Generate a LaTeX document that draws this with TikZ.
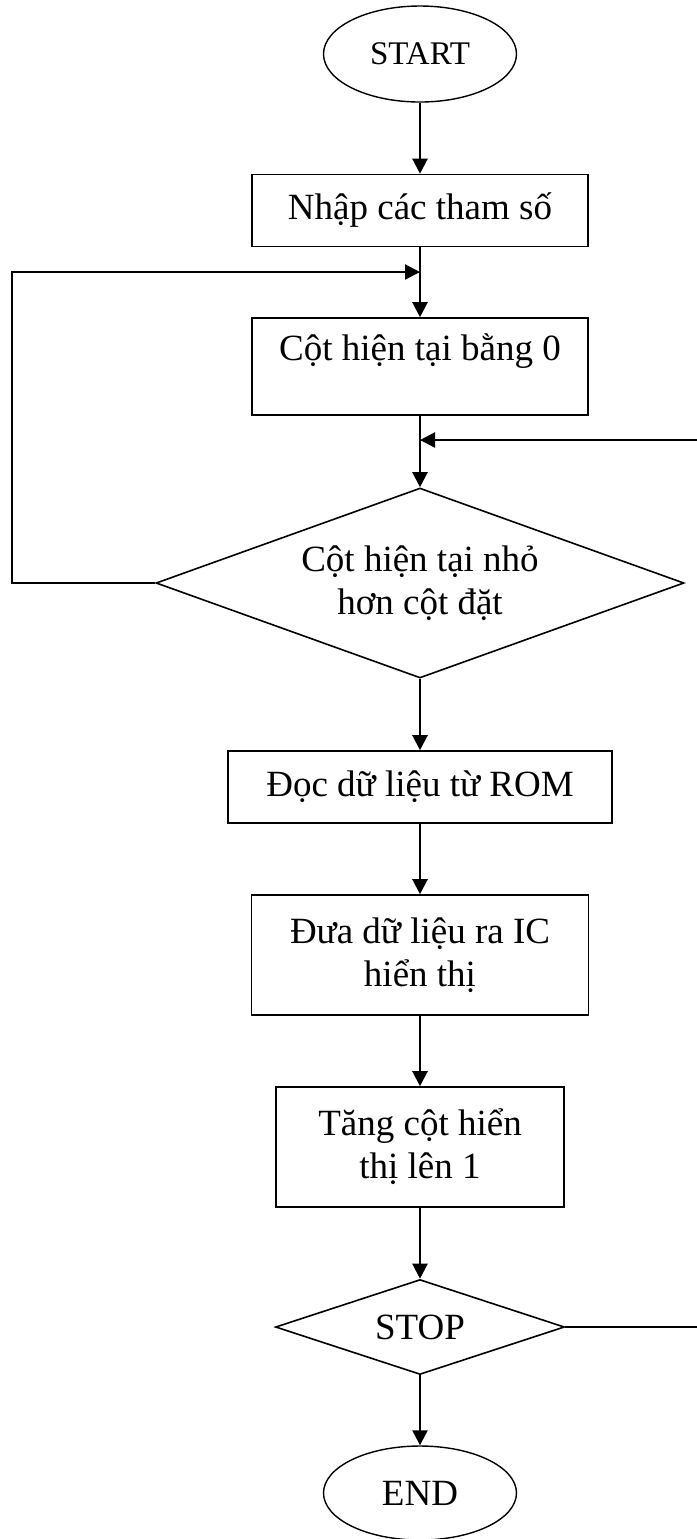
\documentclass[tikz,border=0pt]{standalone}
\usepackage{fontspec}
\setmainfont{Liberation Serif}
\usepackage{tikz}
\usetikzlibrary{arrows.meta,shapes,positioning}

\begin{document}
\begin{tikzpicture}[x=0.5pt,y=-0.5pt]
                \tikzstyle{every node}+=[inner sep=0pt, font=\fontsize{18.5}{21.5}\selectfont]
                \tikzstyle{stepbox}=[draw, line width=0.8pt, align=center, text height=22.5pt, text depth=13.5pt]
                \tikzstyle{twobox}=[draw, line width=0.8pt, align=center, minimum height=60pt]
                \tikzstyle{termnode}=[draw, ellipse, line width=0.7pt, minimum width=96.5pt, minimum height=48pt]
                \tikzstyle{testnode}=[draw, diamond, line width=0.8pt, align=center]
                \tikzstyle{flowline}=[line width=1.1pt, -{Triangle[length=7.5pt,width=7.5pt]}]
                \useasboundingbox (0,0) rectangle (697,1539);
                \node [termnode, font=\fontsize{16.5}{19}\selectfont] (start) at (420,54) {START};
                \node [stepbox, minimum width=168pt] (params) at (420,210.5) {Nhập các tham số};
                \node [stepbox, minimum width=168pt, text height=21pt, text depth=27.5pt] (zero) at (420,366.5) {Cột hiện tại bằng 0};
                \node [testnode, aspect=2.78, minimum width=264pt, minimum height=95pt] (check) at (420,583) {Cột hiện tại nhỏ\\hơn cột đặt};
                \node [stepbox, minimum width=192pt] (readrom) at (420,787) {Đọc dữ liệu từ ROM};
                \node [twobox, minimum width=168.5pt] (output) at (420,955) {Đưa dữ liệu ra IC\\hiển thị};
                \node [twobox, minimum width=144pt] (incr) at (420,1147) {Tăng cột hiển\\thị lên 1};
                \node [testnode, aspect=3.04, minimum width=144.5pt, minimum height=47.5pt] (stop) at (420,1327) {STOP};
                \node [termnode, minimum height=47pt] (end) at (420,1493) {END};
                \coordinate (loopin) at (420,272);
                \coordinate (backin) at (420,440);
                \draw [flowline] (start) -- (params);
                \draw [flowline] (params) -- (zero);
                \draw [flowline] (zero) -- (check);
                \draw [flowline] (check) -- (readrom);
                \draw [flowline] (readrom) -- (output);
                \draw [flowline] (output) -- (incr);
                \draw [flowline] (incr) -- (stop);
                \draw [flowline] (stop) -- (end);
                \draw [flowline] (check.west) -- (12,583) |- (loopin);
                \draw [flowline] (stop.east) -- (702,1327) |- (backin);
\end{tikzpicture}
\end{document}
